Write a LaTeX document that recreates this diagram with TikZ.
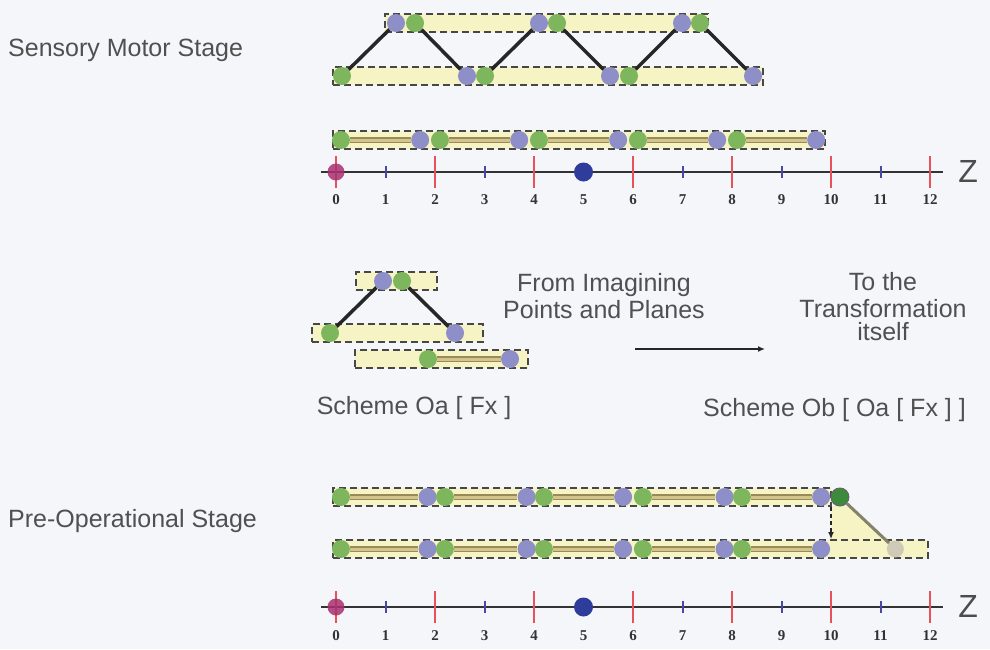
\documentclass[tikz,border=0pt]{standalone}
\usepackage{fontspec}
\setmainfont{Liberation Sans}
\newfontfamily\numfont{Liberation Serif}
\usetikzlibrary{arrows.meta}
\definecolor{bg}{HTML}{F4F6FA}
\definecolor{pur}{HTML}{8E8EC8}
\definecolor{grn}{HTML}{7DB65C}
\definecolor{yel}{HTML}{F6F4C4}
\definecolor{olive}{HTML}{9A8A58}
\definecolor{olivel}{HTML}{D2C48A}
\definecolor{dashc}{HTML}{474747}
\definecolor{txt}{HTML}{505050}
\definecolor{redt}{HTML}{E8505A}
\definecolor{bluet}{HTML}{4848A8}
\definecolor{magc}{HTML}{A83070}
\definecolor{bluec}{HTML}{2E3C9C}
\definecolor{dgrn}{HTML}{3C8A3C}
\definecolor{diag}{HTML}{85826A}
\definecolor{fade}{HTML}{CFCAB8}
\tikzset{
  pc/.style={circle, fill=pur, minimum size=18pt, inner sep=0pt},
  gc/.style={circle, fill=grn, minimum size=18pt, inner sep=0pt},
  bar/.style={draw=dashc, dash pattern=on 7pt off 4pt, line width=2.6pt, fill=yel, minimum height=18pt, inner sep=0pt},
  conn/.style={draw=black!85, line width=3.5pt},
  rod/.style={draw=olive, double=olivel, double distance=3pt, line width=1.3pt},
  lbl/.style={text=txt, font=\fontsize{25}{26}\selectfont, inner sep=0pt},
  axisl/.style={draw=black!80, line width=2.5pt},
  redtick/.style={draw=redt, line width=1.6pt},
  bluetick/.style={draw=bluet, line width=2pt},
  numl/.style={text=black!80, font=\numfont\bfseries\fontsize{15}{17}\selectfont, inner sep=0pt},
  zl/.style={text=black!70, font=\fontsize{32}{34}\selectfont, inner sep=0pt},
  darr/.style={draw=black!85, line width=1.3pt, dash pattern=on 4pt off 3pt, -{Latex[length=7pt,width=6pt]}},
  farr/.style={draw=black!85, line width=1.8pt, -{Latex[length=7pt,width=6pt]}}
}
\begin{document}
\begin{tikzpicture}[x=1pt,y=-1pt]
\useasboundingbox (0,0) rectangle (990,649);
\clip (0,0) rectangle (990,649);
\fill[bg] (0,0) rectangle (990,649);

% ---------------- Sensory motor stage ----------------
\node[lbl, anchor=west] (smt) at (8,50) {Sensory Motor Stage};
\node[bar, minimum width=323pt] (smU) at (546.5,23) {};
\node[bar, minimum width=430pt] (smL) at (548,76) {};
\node[pc] (up1) at (396,23) {};
\node[gc] (ug1) at (415,23) {};
\node[pc] (up2) at (539,23) {};
\node[gc] (ug2) at (557,23) {};
\node[pc] (up3) at (682,23) {};
\node[gc] (ug3) at (700,23) {};
\node[gc] (lg1) at (342,76) {};
\node[pc] (lp1) at (467,76) {};
\node[gc] (lg2) at (485,76) {};
\node[pc] (lp2) at (610,76) {};
\node[gc] (lg3) at (629,76) {};
\node[pc] (lp3) at (753,76) {};
\draw[conn] (lg1) -- (up1);
\draw[conn] (ug1) -- (lp1);
\draw[conn] (lg2) -- (up2);
\draw[conn] (ug2) -- (lp2);
\draw[conn] (lg3) -- (up3);
\draw[conn] (ug3) -- (lp3);

% ---------------- first number line ----------------
\node[bar, minimum width=492pt] (tb) at (579,140) {};
\begin{scope}[xshift=336pt, x=49.5pt]
  \foreach \i/\gx/\px in {0/0.1/1.7, 1/2.1/3.7, 2/4.1/5.7, 3/6.1/7.7, 4/8.1/9.7} {
    \node[gc] (tg\i) at (\gx,140) {};
    \node[pc] (tp\i) at (\px,140) {};
    \draw[rod] (tg\i) -- (tp\i);
  }
  \coordinate (ta0) at (-0.3,172);
  \coordinate (ta1) at (12.27,172);
  \draw[axisl] (ta0) -- (ta1);
  \foreach \n in {0,2,...,12} \draw[redtick] (\n,156) -- (\n,188);
  \foreach \n in {1,3,...,11} \draw[bluetick] (\n,166) -- (\n,178);
  \foreach \n in {0,...,12} \node[numl] (tl\n) at (\n,200) {\n};
  \node[circle, fill=magc, fill opacity=0.85, minimum size=17pt, inner sep=0pt] (tc0) at (0,172) {};
  \node[circle, fill=bluec, minimum size=19pt, inner sep=0pt] (tc5) at (5,172) {};
  \node[zl] (tz) at (12.77,171) {Z};
\end{scope}

% ---------------- Scheme Oa ----------------
\node[bar, minimum width=81pt] (sa1) at (396.5,281) {};
\node[bar, minimum width=171pt] (sa2) at (397.5,333) {};
\node[bar, minimum width=173pt] (sa3) at (441.5,359) {};
\node[pc] (sp1) at (383,281) {};
\node[gc] (sg1) at (402,281) {};
\node[gc] (sg2) at (330,333) {};
\node[pc] (sp2) at (455,333) {};
\node[gc] (sg3) at (428,359) {};
\node[pc] (sp3) at (510,359) {};
\draw[conn] (sg2) -- (sp1);
\draw[conn] (sg1) -- (sp2);
\draw[rod] (sg3) -- (sp3);
\node[lbl] (soa) at (414,408) {Scheme Oa [ Fx ]};

\node[lbl, align=center] (fip) at (604,296) {From Imagining\\[1pt]Points and Planes};
\coordinate (ar0) at (635,349);
\coordinate (ar1) at (765,349);
\draw[farr] (ar0) -- (ar1);
\node[lbl, align=center] (tti) at (883,307) {To the\\[1pt]Transformation\\[-3pt]itself};
\node[lbl, anchor=west] (sob) at (703,410) {Scheme Ob [ Oa [ Fx ] ]};

% ---------------- Pre-operational stage ----------------
\node[lbl, anchor=west] (pot) at (8,521) {Pre-Operational Stage};
\fill[yel] (831,506) -- (849,506) -- (889,541) -- (831,541) -- cycle;
\node[bar, minimum width=498pt] (pbU) at (582,497) {};
\node[bar, minimum width=595pt] (pbL) at (630.5,549) {};
\begin{scope}[xshift=336pt, x=49.5pt]
  \foreach \i/\gx/\px in {0/0.1/1.85, 1/2.2/3.85, 2/4.2/5.8, 3/6.2/7.85, 4/8.2/9.8} {
    \node[gc] (pug\i) at (\gx,497) {};
    \node[pc] (pup\i) at (\px,497) {};
    \draw[rod] (pug\i) -- (pup\i);
    \node[gc] (plg\i) at (\gx,549) {};
    \node[pc] (plp\i) at (\px,549) {};
    \draw[rod] (plg\i) -- (plp\i);
  }
  \node[circle, fill=fade, minimum size=17pt, inner sep=0pt] (pfc) at (11.3,549) {};
  \node[circle, fill=dgrn, draw=black!60, line width=1pt, minimum size=18pt, inner sep=0pt] (pdg) at (10.18,497) {};
  \draw[draw=diag, line width=3pt] (pdg) -- (pfc);
  \coordinate (da0) at (10.0,507);
  \coordinate (da1) at (10.0,539);
  \draw[darr] (da0) -- (da1);

  \coordinate (ba0) at (-0.3,607);
  \coordinate (ba1) at (12.27,607);
  \draw[axisl] (ba0) -- (ba1);
  \foreach \n in {0,2,...,12} \draw[redtick] (\n,591) -- (\n,623);
  \foreach \n in {1,3,...,11} \draw[bluetick] (\n,601) -- (\n,613);
  \foreach \n in {0,...,12} \node[numl] (bl\n) at (\n,636) {\n};
  \node[circle, fill=magc, fill opacity=0.85, minimum size=17pt, inner sep=0pt] (bc0) at (0,607) {};
  \node[circle, fill=bluec, minimum size=19pt, inner sep=0pt] (bc5) at (5,607) {};
  \node[zl] (bz) at (12.77,606) {Z};
\end{scope}
\end{tikzpicture}
\end{document}
